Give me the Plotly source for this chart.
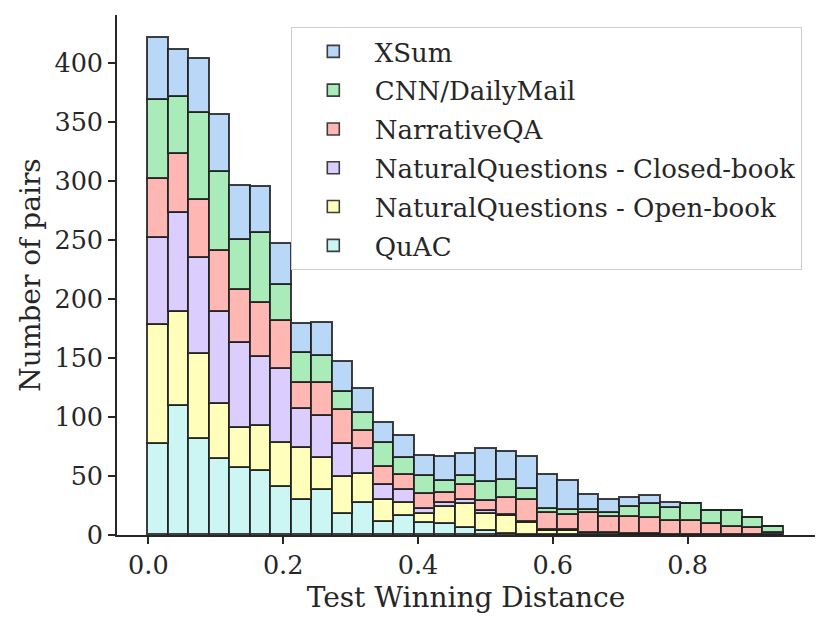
import numpy as np
import plotly.graph_objects as go

# bin layout: 31 equal bins from 0 to max distance
bin_min = 0.0
bin_max = 0.943
n_bins = 31
edges = np.linspace(bin_min, bin_max, n_bins + 1)
centers = (edges[:-1] + edges[1:]) / 2
width = edges[1] - edges[0]

series_names = ["QuAC", "NaturalQuestions - Open-book", "NaturalQuestions - Closed-book",
                "NarrativeQA", "CNN/DailyMail", "XSum"]

quac = [77, 109, 81, 64, 57, 54, 41, 30, 38, 18, 27, 11, 16, 10, 9, 6, 3, 1, 0, 0, 0, 0, 0, 0, 0, 0, 0, 0, 0, 0, 0]
nq_open = [101, 80, 72, 47, 34, 38, 37, 44, 27, 31, 25, 19, 11, 8, 15, 20, 15, 15, 10, 3, 3, 2, 2, 1, 1, 0, 0, 0, 0, 0, 0]
nq_closed = [74, 84, 82, 78, 72, 59, 63, 33, 36, 28, 21, 12, 11, 4, 3, 4, 2, 1, 1, 1, 1, 0, 0, 0, 0, 0, 0, 0, 0, 0, 0]
narrativeqa = [50, 50, 49, 52, 45, 46, 40, 22, 28, 29, 15, 16, 13, 13, 9, 12, 9, 14, 19, 15, 13, 17, 13, 14, 13, 12, 12, 9, 7, 6, 2]
cnn_dm = [67, 48, 74, 67, 42, 59, 31, 25, 23, 15, 15, 20, 14, 15, 10, 8, 16, 16, 9, 3, 4, 2, 4, 9, 12, 11, 14, 11, 13, 8, 5]
xsum = [52, 40, 45, 48, 46, 39, 35, 25, 28, 26, 21, 17, 19, 17, 20, 19, 28, 23, 27, 29, 25, 13, 11, 7, 7, 4, 0, 0, 0, 0, 0]

values = [quac, nq_open, nq_closed, narrativeqa, cnn_dm, xsum]
colors = ["#cbf6f4", "#fffeba", "#dccdff", "#ffb7b4", "#aaecb9", "#b9d7f7"]

x_ticks = [0.0, 0.2, 0.4, 0.6, 0.8]
y_ticks = [0, 50, 100, 150, 200, 250, 300, 350, 400]

FONT = "DejaVu Serif"
TXT = "#262626"

fig = go.Figure()
n = len(series_names)
for i, (name, vals, col) in enumerate(zip(series_names, values, colors)):
    fig.add_trace(go.Bar(
        x=centers, y=vals, width=width, name=name,
        marker=dict(color=col, line=dict(color="rgba(30,30,30,0.85)", width=1.6)),
        legendgroup=name, legendrank=n - i,
    ))

fig.update_layout(
    width=830, height=627,
    barmode="stack", bargap=0,
    paper_bgcolor="white", plot_bgcolor="white",
    margin=dict(l=109, r=23, t=7, b=100, autoexpand=False),
    font=dict(family=FONT, size=25, color=TXT),
    legend=dict(
        x=0.249, y=0.977, xanchor="left", yanchor="top",
        traceorder="grouped", tracegroupgap=2,
        bgcolor="rgba(255,255,255,0.8)", bordercolor="#cccccc", borderwidth=1,
        font=dict(family=FONT, size=26, color=TXT),
        itemwidth=73,
    ),
    xaxis=dict(
        range=[-0.0465, 0.989], tickvals=x_ticks, tickformat=".1f",
        showline=True, linecolor="#262626", linewidth=1.6,
        ticks="outside", ticklen=7, tickwidth=1.6, tickcolor="#262626",
        showgrid=False, zeroline=False,
        title=dict(text="Test Winning Distance", standoff=8, font=dict(size=28)),
        tickfont=dict(size=25.5),
    ),
    yaxis=dict(
        range=[0, 440.7], tickvals=y_ticks,
        showline=True, linecolor="#262626", linewidth=1.6,
        ticks="outside", ticklen=7, tickwidth=1.6, tickcolor="#262626",
        showgrid=False, zeroline=False,
        title=dict(text="Number of pairs", standoff=6, font=dict(size=28)),
        tickfont=dict(size=25.5),
    ),
)

fig.write_html("out.html")
